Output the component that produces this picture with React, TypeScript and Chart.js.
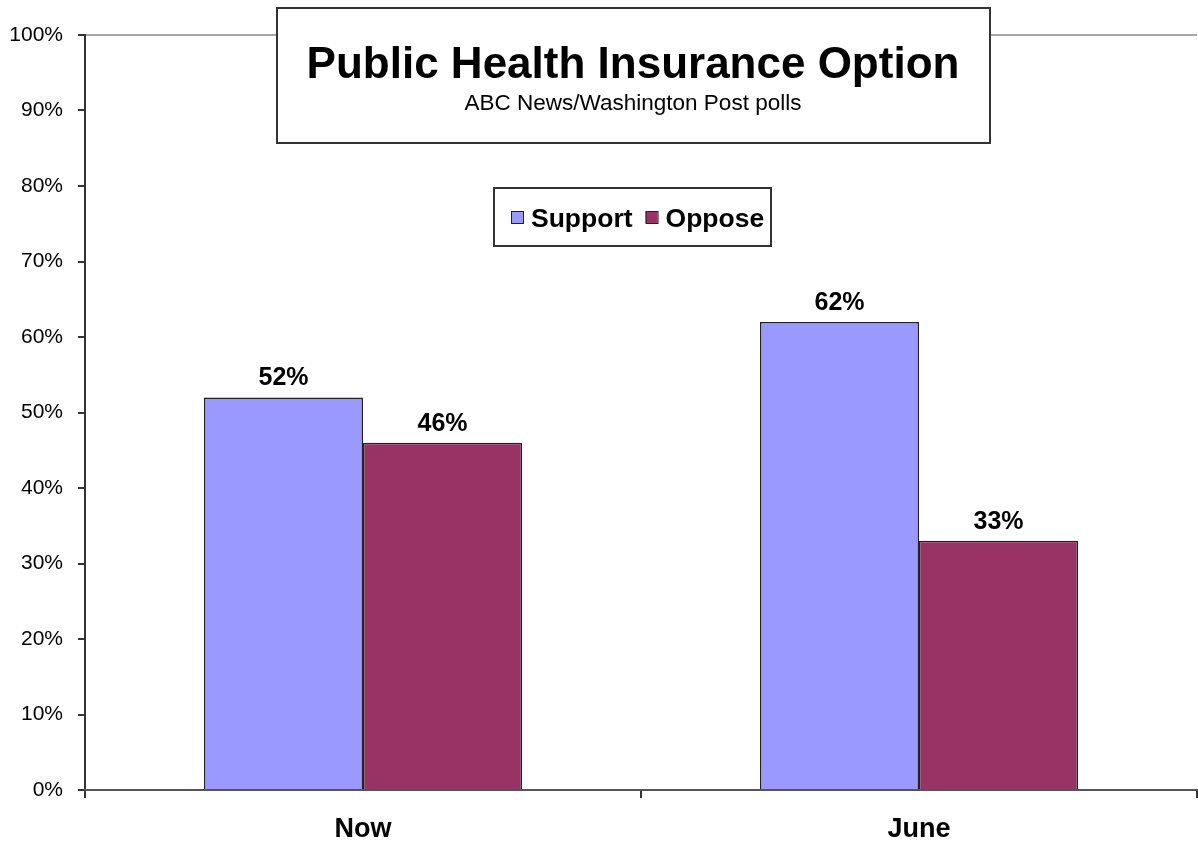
import React, { useEffect, useRef } from "react";
import { Chart, registerables } from "chart.js";

Chart.register(...registerables);

const categories = ["Now", "June"];
const supportValues = [52, 62];
const opposeValues = [46, 33];
const seriesNames = ["Support", "Oppose"];
const seriesColors = ["#9999FF", "#993366"];
const titleText = "Public Health Insurance Option";
const subtitleText = "ABC News/Washington Post polls";
const yTickMax = 100;
const yTickStep = 10;

const FONT = "'Liberation Sans', Arial, sans-serif";

const overlayPlugin = {
  id: "overlay",
  afterDatasetsDraw(chart: any) {
    const ctx = chart.ctx;
    ctx.save();
    ctx.font = `bold 25px ${FONT}`;
    ctx.fillStyle = "#000";
    ctx.textAlign = "center";
    ctx.textBaseline = "alphabetic";
    chart.data.datasets.forEach((ds: any, i: number) => {
      const meta = chart.getDatasetMeta(i);
      meta.data.forEach((el: any, j: number) => {
        ctx.fillText(`${ds.data[j]}%`, el.x, el.y - 12);
      });
    });
    ctx.restore();
  },
  afterDraw(chart: any) {
    const ctx = chart.ctx;
    ctx.save();
    // title box
    ctx.fillStyle = "#fff";
    ctx.fillRect(277, 8, 713, 135);
    ctx.strokeStyle = "#333";
    ctx.lineWidth = 2;
    ctx.strokeRect(277, 8, 713, 135);
    ctx.fillStyle = "#000";
    ctx.textAlign = "center";
    ctx.textBaseline = "alphabetic";
    ctx.font = `bold 44px ${FONT}`;
    ctx.fillText(titleText, 633, 78);
    ctx.font = `22.5px ${FONT}`;
    ctx.fillText(subtitleText, 633, 110);

    // legend box
    ctx.fillStyle = "#fff";
    ctx.fillRect(494, 188, 277, 58);
    ctx.strokeStyle = "#333";
    ctx.lineWidth = 2;
    ctx.strokeRect(494, 188, 277, 58);
    ctx.font = `bold 26.5px ${FONT}`;
    ctx.textAlign = "left";
    let x = 511;
    chart.data.datasets.forEach((ds: any) => {
      ctx.fillStyle = ds.backgroundColor;
      ctx.fillRect(x, 211, 12, 12);
      ctx.strokeStyle = "#222";
      ctx.lineWidth = 1;
      ctx.strokeRect(x + 0.5, 211.5, 12, 12);
      ctx.fillStyle = "#000";
      ctx.fillText(ds.label, x + 20, 227);
      x += 20 + ctx.measureText(ds.label).width + 13;
    });
    ctx.restore();
  },
};

export default function App() {
  const canvasRef = useRef<HTMLCanvasElement | null>(null);

  useEffect(() => {
    if (!canvasRef.current) return;
    const chart = new Chart(canvasRef.current, {
      type: "bar",
      data: {
        labels: categories,
        datasets: [
          {
            label: seriesNames[0],
            data: supportValues,
            backgroundColor: seriesColors[0],
            borderColor: "#222",
            borderWidth: 1.5,
          },
          {
            label: seriesNames[1],
            data: opposeValues,
            backgroundColor: seriesColors[1],
            borderColor: "#222",
            borderWidth: 1.5,
          },
        ],
      },
      options: {
        animation: false,
        responsive: true,
        maintainAspectRatio: false,
        layout: { padding: { top: 35, right: 1, left: 0, bottom: 0 } },
        datasets: {
          bar: { barPercentage: 1, categoryPercentage: 0.572 },
        },
        plugins: {
          legend: { display: false },
          title: { display: false },
          tooltip: { enabled: false },
        },
        scales: {
          y: {
            min: 0,
            max: yTickMax,
            afterFit: (scale: any) => {
              scale.width = 85;
            },
            ticks: {
              stepSize: yTickStep,
              callback: (v: any) => `${v}%`,
              font: { family: FONT, size: 21 },
              color: "#000",
              padding: 15,
            },
            grid: {
              color: (c: any) =>
                c.tick && c.tick.value === yTickMax ? "#a6a6a6" : "rgba(0,0,0,0)",
              tickColor: "#333",
              tickLength: 7,
              lineWidth: 2,
            },
            border: { color: "#333", width: 2 },
          },
          x: {
            afterFit: (scale: any) => {
              scale.height = 52;
            },
            ticks: {
              font: { family: FONT, size: 27, weight: "bold" },
              color: "#000",
              padding: 15,
            },
            grid: {
              offset: true,
              drawOnChartArea: false,
              tickColor: "#333",
              tickLength: 8,
              lineWidth: 2,
            },
            border: { color: "#555", width: 2 },
          },
        },
      },
      plugins: [overlayPlugin],
    });
    return () => chart.destroy();
  }, []);

  return (
    <div
      style={{
        position: "fixed",
        left: 0,
        top: 0,
        width: 1198,
        height: 842,
        background: "#fff",
      }}
    >
      <canvas ref={canvasRef} />
    </div>
  );
}
